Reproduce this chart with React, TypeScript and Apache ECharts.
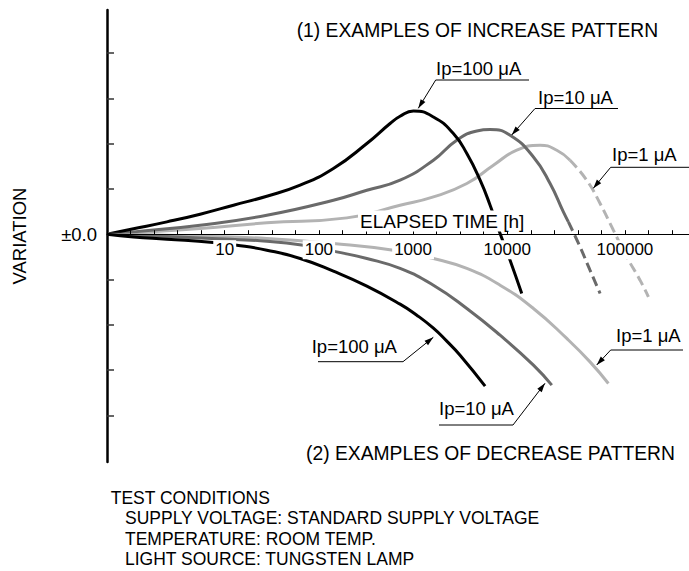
import React, { useEffect, useRef } from "react";
import * as echarts from "echarts";

// x values are log10(elapsed time [h]); y values are variation in axis divisions
const up100X = [-0.25, 0.031, 0.386, 0.739, 1.093, 1.447, 1.801, 2.154, 2.509, 2.756, 2.862, 3.004, 3.216, 3.428, 3.571, 3.712, 3.818, 3.924, 4.03, 4.154];
const up100Y = [0, 0.119, 0.272, 0.442, 0.64, 0.839, 1.082, 1.45, 2.002, 2.444, 2.605, 2.722, 2.589, 2.223, 1.781, 1.192, 0.64, 0.015, -0.574, -1.309];

const up10X = [-0.25, 0.031, 0.739, 1.447, 2.154, 2.509, 2.862, 3.216, 3.464, 3.677, 3.818, 4.03, 4.278, 4.455, 4.596, 4.649];
const up10Y = [0, 0.051, 0.199, 0.419, 0.751, 0.971, 1.192, 1.634, 2.075, 2.28, 2.311, 2.185, 1.706, 1.119, 0.492, 0.272];
const up10DashX = [4.649, 4.773, 4.879, 4.986];
const up10DashY = [0.272, -0.28, -0.795, -1.309];

const up1X = [-0.25, 0.031, 0.739, 1.447, 2.297, 2.862, 3.216, 3.571, 3.853, 4.101, 4.349, 4.526, 4.667];
const up1Y = [0, 0.029, 0.126, 0.25, 0.36, 0.64, 0.823, 1.119, 1.523, 1.854, 1.965, 1.854, 1.634];
const up1DashX = [4.667, 4.844, 4.986, 5.127, 5.269, 5.41, 5.499];
const up1DashY = [1.634, 1.192, 0.678, 0.088, -0.501, -1.015, -1.384];

const dn100X = [-0.25, 0.031, 0.386, 0.877, 1.129, 1.447, 1.801, 2.154, 2.509, 2.862, 3.04, 3.216, 3.358, 3.499, 3.765];
const dn100Y = [0, -0.06, -0.11, -0.183, -0.243, -0.353, -0.536, -0.817, -1.148, -1.545, -1.788, -2.075, -2.362, -2.671, -3.355];

const dn10X = [-0.25, 0.031, 0.739, 1.447, 1.836, 2.19, 2.509, 2.862, 3.216, 3.571, 3.924, 4.278, 4.473];
const dn10Y = [0, -0.022, -0.082, -0.155, -0.243, -0.391, -0.536, -0.757, -1.126, -1.64, -2.23, -2.892, -3.333];

const dn1X = [-0.25, 0.031, 0.739, 1.447, 2.154, 2.791, 3.216, 3.571, 3.924, 4.278, 4.632, 4.879, 5.074];
const dn1Y = [0, -0.007, -0.044, -0.095, -0.205, -0.353, -0.536, -0.757, -1.126, -1.64, -2.302, -2.819, -3.296];

const xTickLabels = ["10", "100", "1000", "10000", "100000"];
const xTickLabelPos = [1, 2, 3, 4, 5.25];
const yTickValues = [-4, -3, -2, -1, 1, 2, 3, 4];

const Y_MIN = -5.03;
const Y_MAX = 4.95;
const GRID_TOP = 10;
const GRID_BOTTOM_PX = 462;

const FONT = '"Liberation Sans", Arial, Helvetica, sans-serif';
const BLACK = "#000000";
const GRAY = "#6a6a6a";
const LIGHT = "#b3b3b3";

const pairs = (xs: number[], ys: number[]) => xs.map((x, i) => [x, ys[i]]);

const annotations = [
  { text: "Ip=100 μA", tx: 436, ty: 68, ux1: 435.7, ux2: 529, uy: 80, lx: 435.7, tipX: 418.3, tipY: 108.3 },
  { text: "Ip=10 μA", tx: 538, ty: 97.5, ux1: 535, ux2: 618, uy: 108.5, lx: 535, tipX: 511.7, tipY: 135 },
  { text: "Ip=1 μA", tx: 612, ty: 154, ux1: 610.7, ux2: 689, uy: 167.3, lx: 610.7, tipX: 593.3, tipY: 188.3 },
  { text: "Ip=100 μA", tx: 311.7, ty: 346.5, ux1: 318, ux2: 403, uy: 361.7, lx: 403, tipX: 433.3, tipY: 337.3 },
  { text: "Ip=10 μA", tx: 439, ty: 408, ux1: 439, ux2: 513, uy: 425, lx: 513, tipX: 545, tipY: 383.3 },
  { text: "Ip=1 μA", tx: 616, ty: 335, ux1: 610.7, ux2: 683, uy: 350, lx: 610.7, tipX: 596.7, tipY: 365 },
];

const notes = [
  { text: "(1) EXAMPLES OF INCREASE PATTERN", x: 296.7, y: 30.5, size: 19.3 },
  { text: "(2) EXAMPLES OF DECREASE PATTERN", x: 306, y: 453, size: 19.3 },
  { text: "TEST CONDITIONS", x: 110.7, y: 497.5, size: 17.5 },
  { text: "SUPPLY VOLTAGE: STANDARD SUPPLY VOLTAGE", x: 125, y: 518, size: 17.5 },
  { text: "TEMPERATURE: ROOM TEMP.", x: 125, y: 538.5, size: 17.5 },
  { text: "LIGHT SOURCE: TUNGSTEN LAMP", x: 125, y: 559, size: 17.5 },
];

function arrowHead(sx: number, sy: number, tx: number, ty: number) {
  const dx = tx - sx;
  const dy = ty - sy;
  const len = Math.sqrt(dx * dx + dy * dy);
  const ux = dx / len;
  const uy = dy / len;
  const bx = tx - ux * 9;
  const by = ty - uy * 9;
  const nx = -uy * 2.8;
  const ny = ux * 2.8;
  return [
    [tx, ty],
    [bx + nx, by + ny],
    [bx - nx, by - ny],
  ];
}

export default function App() {
  const ref = useRef<HTMLDivElement>(null);

  useEffect(() => {
    if (!ref.current) return;
    const chart = echarts.init(ref.current, undefined, { renderer: "svg" });

    const lineSeries = (name: string, data: number[][], color: string, dashed = false) => ({
      type: "line",
      name,
      data,
      smooth: 0.5,
      showSymbol: false,
      symbol: "none",
      lineStyle: { color, width: 3, type: dashed ? [10, 5] : "solid", cap: "butt" },
      z: 2,
    });

    const graphics: any[] = [];
    annotations.forEach((a) => {
      graphics.push({
        type: "text",
        x: a.tx,
        y: a.ty,
        z: 100,
        style: { text: a.text, fill: "#000", fontSize: 18.5, fontFamily: FONT, align: "left", verticalAlign: "middle" },
      });
      graphics.push({
        type: "line",
        z: 100,
        shape: { x1: a.ux1, y1: a.uy, x2: a.ux2, y2: a.uy },
        style: { stroke: "#000", lineWidth: 1 },
      });
      graphics.push({
        type: "line",
        z: 100,
        shape: { x1: a.lx, y1: a.uy, x2: a.tipX, y2: a.tipY },
        style: { stroke: "#000", lineWidth: 1 },
      });
      graphics.push({
        type: "polygon",
        z: 100,
        shape: { points: arrowHead(a.lx, a.uy, a.tipX, a.tipY) },
        style: { fill: "#000" },
      });
    });
    notes.forEach((n) => {
      graphics.push({
        type: "text",
        x: n.x,
        y: n.y,
        z: 100,
        style: { text: n.text, fill: "#000", fontSize: n.size, fontFamily: FONT, align: "left", verticalAlign: "middle" },
      });
    });
    graphics.push({
      type: "text",
      x: 358,
      y: 221,
      z: 100,
      style: {
        text: "ELAPSED TIME [h]",
        fill: "#000",
        fontSize: 19,
        fontFamily: FONT,
        align: "left",
        verticalAlign: "middle",
        backgroundColor: "#fff",
        padding: [1, 2, 1, 2],
      },
    });

    // move the x axis (line, ticks, labels) up to the zero level of the y axis
    const gridH = GRID_BOTTOM_PX - GRID_TOP;
    const zeroOffset = -(gridH * (0 - Y_MIN)) / (Y_MAX - Y_MIN);

    chart.setOption({
      animation: false,
      backgroundColor: "#fff",
      textStyle: { fontFamily: FONT },
      grid: { left: 107, right: 0, top: GRID_TOP, bottom: 571 - GRID_BOTTOM_PX, containLabel: false },
      xAxis: {
        type: "value",
        position: "bottom",
        offset: zeroOffset,
        min: -0.25,
        max: 5.93,
        interval: 0.25,
        z: 5,
        axisLine: { show: true, onZero: false, lineStyle: { color: "#000", width: 1.2 } },
        axisTick: { show: true, inside: true, length: 4, lineStyle: { color: "#000", width: 1 } },
        axisLabel: {
          customValues: xTickLabelPos,
          formatter: (v: number) => {
            const i = xTickLabelPos.findIndex((p) => Math.abs(p - v) < 1e-6);
            return i >= 0 ? xTickLabels[i] : "";
          },
          color: "#000",
          fontSize: 17,
          fontFamily: FONT,
          margin: 6,
          backgroundColor: "#fff",
          padding: [1, 2, 1, 2],
        },
        splitLine: { show: false },
      },
      yAxis: {
        type: "value",
        min: Y_MIN,
        max: Y_MAX,
        name: "VARIATION",
        nameLocation: "middle",
        nameRotate: 90,
        nameGap: 78,
        nameTextStyle: { color: "#000", fontSize: 18.5, fontFamily: FONT },
        axisLine: { show: true, onZero: false, lineStyle: { color: "#000", width: 2.5 } },
        axisTick: { show: true, inside: true, length: 7, customValues: yTickValues, lineStyle: { color: "#333", width: 1.5 } },
        axisLabel: {
          customValues: [0],
          formatter: () => "±0.0",
          color: "#000",
          fontSize: 18.5,
          fontFamily: FONT,
          margin: 10,
        },
        splitLine: { show: false },
      },
      series: [
        lineSeries("Ip=1 μA (increase)", pairs(up1X, up1Y), LIGHT),
        lineSeries("Ip=1 μA (increase, extrapolated)", pairs(up1DashX, up1DashY), LIGHT, true),
        lineSeries("Ip=10 μA (increase)", pairs(up10X, up10Y), GRAY),
        lineSeries("Ip=10 μA (increase, extrapolated)", pairs(up10DashX, up10DashY), GRAY, true),
        lineSeries("Ip=100 μA (increase)", pairs(up100X, up100Y), BLACK),
        lineSeries("Ip=1 μA (decrease)", pairs(dn1X, dn1Y), LIGHT),
        lineSeries("Ip=10 μA (decrease)", pairs(dn10X, dn10Y), GRAY),
        lineSeries("Ip=100 μA (decrease)", pairs(dn100X, dn100Y), BLACK),
      ],
      graphic: graphics,
    });

    return () => chart.dispose();
  }, []);

  return (
    <div
      ref={ref}
      style={{ position: "fixed", left: 0, top: 0, width: 689, height: 571, background: "#fff" }}
    />
  );
}
